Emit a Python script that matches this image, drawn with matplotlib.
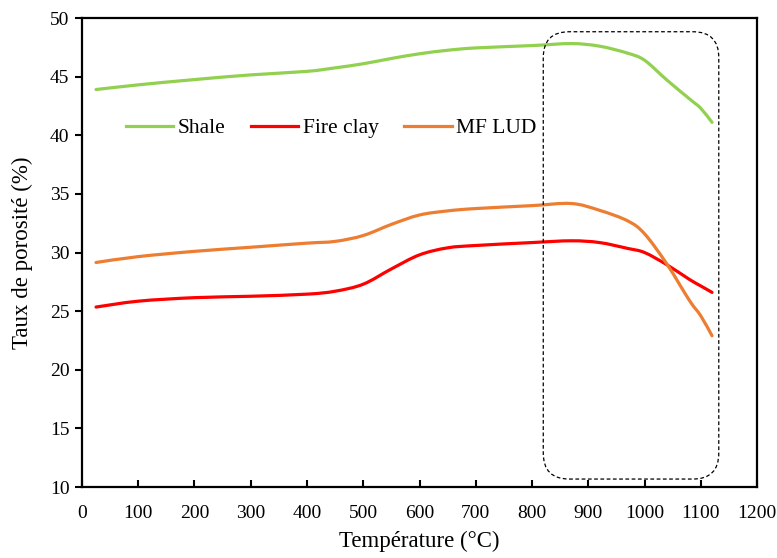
import numpy as np
import matplotlib
matplotlib.use("Agg")
import matplotlib.pyplot as plt
from matplotlib.patches import FancyBboxPatch, PathPatch
from matplotlib.path import Path
from matplotlib.lines import Line2D

plt.rcParams['font.family'] = ['Liberation Serif', 'DejaVu Serif']

# températures (°C)
temp = [25, 100, 200, 300, 400, 450, 500, 550, 600, 650, 700, 800, 870, 920, 970, 1000, 1040, 1080, 1100, 1120]

# taux de porosité (%)
shale = [43.9, 44.3, 44.75, 45.15, 45.45, 45.75, 46.1, 46.55, 46.95, 47.25, 47.45, 47.65, 47.82, 47.6, 47.0, 46.4, 44.7, 43.1, 42.3, 41.1]
fire_clay = [25.35, 25.85, 26.15, 26.27, 26.45, 26.7, 27.3, 28.6, 29.8, 30.4, 30.6, 30.85, 31.0, 30.85, 30.35, 30.0, 28.95, 27.7, 27.15, 26.6]
mf_lud = [29.15, 29.65, 30.1, 30.45, 30.8, 30.95, 31.45, 32.4, 33.2, 33.55, 33.75, 34.0, 34.18, 33.6, 32.7, 31.6, 29.0, 25.9, 24.6, 22.9]

series = [('Shale', shale, '#92D050'), ('Fire clay', fire_clay, '#FF0000'), ('MF LUD', mf_lud, '#ED7D31')]


# courbe lissée façon Excel (Bézier passant par les points)
def smooth_path(x, y, t=1 / 6):
    p = np.column_stack([x, y]).astype(float)
    verts = [p[0]]
    codes = [Path.MOVETO]
    n = len(p)
    for i in range(n - 1):
        p0 = p[i - 1] if i > 0 else p[i]
        p3 = p[i + 2] if i + 2 < n else p[i + 1]
        c1 = p[i] + (p[i + 1] - p0) * t
        c2 = p[i + 1] - (p3 - p[i]) * t
        verts += [c1, c2, p[i + 1]]
        codes += [Path.CURVE4] * 3
    return Path(verts, codes)


fig = plt.figure(figsize=(7.77, 5.58), dpi=100)
ax = fig.add_axes([0.1055, 0.1272, 0.8688, 0.8405])

handles = []
for name, vals, col in series:
    ax.add_patch(PathPatch(smooth_path(temp, vals), fill=False, ec=col, lw=2.3,
                           joinstyle='round', capstyle='round'))
    handles.append(Line2D([], [], color=col, lw=2.3, label=name))

ax.set_xlim(0, 1200)
ax.set_ylim(10, 50)
ax.set_xticks(np.arange(0, 1201, 100))
ax.set_yticks(np.arange(10, 51, 5))
ax.tick_params(axis='x', direction='in', length=5, width=1.5, labelsize=14, pad=13)
ax.tick_params(axis='y', direction='out', length=5, width=1.5, labelsize=14, pad=4)
for s in ax.spines.values():
    s.set_linewidth(1.6)

ax.set_xlabel('Température (°C)', fontsize=16.5, labelpad=6)
ax.set_ylabel('Taux de porosité (%)', fontsize=16.5, labelpad=12)

# cadre pointillé autour de la zone de chute
box = FancyBboxPatch((820, 10.68), 312, 38.15, boxstyle="round,pad=0,rounding_size=46",
                     mutation_aspect=0.048, transform=ax.transData,
                     fill=False, ec='black', lw=0.9, ls=(0, (3, 2)), clip_on=False)
ax.add_patch(box)

ax.legend(handles=handles, loc='center left', bbox_to_anchor=(0.065, 0.765), ncol=3, frameon=False,
          fontsize=15.5, handlelength=2.2, handletextpad=0.2, columnspacing=1.2,
          borderpad=0, borderaxespad=0)

fig.savefig('out.png', dpi=100)
